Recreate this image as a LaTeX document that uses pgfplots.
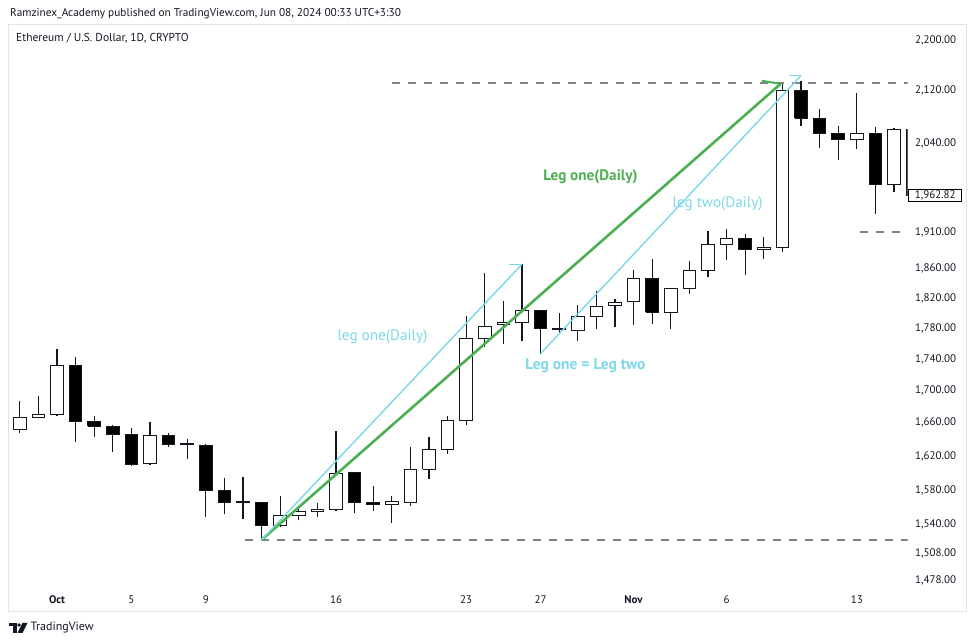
\documentclass[border=0pt]{standalone}
\usepackage{fontspec}
\setmainfont{PT Sans}
\usepackage{pgfplots}
\pgfplotsset{compat=1.18}
\usepackage{pgfplotstable}
\definecolor{tvtext}{HTML}{131722}
\definecolor{tvcyan}{HTML}{7DD8E8}
\definecolor{tvgreen}{HTML}{4CAF50}
\definecolor{tvdash}{HTML}{80838D}
\definecolor{tvframe}{HTML}{E0E3EB}

% daily candles, d = day index (0 = Oct 1)
\pgfplotstableread{
d O H L C
-2 1652 1687 1648 1667
-1 1667 1693 1666 1670
0 1670 1753 1669 1732
5 1611 1661 1610 1645
12 1539 1573 1538 1551
13 1551 1560 1545 1555
14 1555 1565 1549 1557
15 1557 1650 1556 1599
18 1563.5 1573 1542 1566.5
19 1566 1631 1562 1604
20 1604 1643 1593 1628
21 1628 1668 1623 1663
22 1663 1796 1657 1766
23 1766 1854 1756 1783
24 1785 1816 1760 1787
25 1787 1866 1764 1803
28 1777 1811 1764 1795
29 1795 1830 1779 1809
30 1810 1819 1782 1814
31 1815 1858 1784 1847
33 1801 1834 1779 1833
34 1833 1870 1826 1857
35 1857 1913 1849 1893.5
36 1894 1915 1872 1901
38 1886 1904 1874 1889
39 1889 2132 1883 2121
43 2046 2117 2031 2054
45 1979 2063 1968 2060
}\upcandles

\pgfplotstableread{
d O H L C
1 1732 1743 1637 1662
2 1662 1669 1643 1656
3 1656 1657 1625 1646
4 1646 1654 1608 1610
6 1645 1648 1631 1634
7 1634.5 1641 1617 1633.5
8 1633 1634 1549 1579
9 1579 1594 1552 1566
10 1566.5 1595 1546 1565.5
11 1566 1566 1523 1539
16 1600 1601 1553 1565
17 1565 1585 1556 1563
26 1803 1803 1747 1779
27 1779 1800 1772 1778
32 1847 1874 1786 1801
37 1901 1908 1851 1886
40 2121 2136 2066 2078
41 2078 2092 2032 2054
42 2054 2066 2015 2045
44 2054 2065 1936 1979
46 2060 2062 1955 1962.82
}\downcandles

% draw the candles of one table; #2 = fill colour of the body
\newcommand\drawcandles[2]{%
  \pgfplotstablegetrowsof{#1}%
  \pgfmathtruncatemacro\nrows{\pgfplotsretval-1}%
  \pgfplotsforeachungrouped \i in {0,...,\nrows}{%
    \pgfplotstablegetelem{\i}{d}\of#1\let\cd\pgfplotsretval
    \pgfplotstablegetelem{\i}{O}\of#1\let\co\pgfplotsretval
    \pgfplotstablegetelem{\i}{H}\of#1\let\ch\pgfplotsretval
    \pgfplotstablegetelem{\i}{L}\of#1\let\cl\pgfplotsretval
    \pgfplotstablegetelem{\i}{C}\of#1\let\cc\pgfplotsretval
    \pgfmathsetmacro\xl{\cd-0.34}%
    \pgfmathsetmacro\xr{\cd+0.34}%
    \pgfmathsetmacro\bbot{min(\co,\cc)}%
    \pgfmathsetmacro\btop{max(max(\co,\cc),\bbot+1.2)}%
    \edef\doplot{%
      \noexpand\addplot[draw=tvtext, line width=1.1pt, forget plot] coordinates {(\cd,\cl) (\cd,\ch)};
      \noexpand\addplot[draw=tvtext, fill=#2, line width=1pt, forget plot] coordinates {(\xl,\bbot) (\xr,\bbot) (\xr,\btop) (\xl,\btop) (\xl,\bbot)};
    }\doplot
  }%
}

\begin{document}
\begin{tikzpicture}
\fill[white] (0pt,0pt) rectangle (975pt,644pt);
\path[use as bounding box] (0pt,0pt) rectangle (975pt,644pt);
\draw[tvframe, line width=0.8pt] (8.5pt,32.3pt) rectangle (966pt,620pt);
\node[anchor=west, inner sep=0pt, font=\fontsize{11.3}{13}\selectfont, text=tvtext] at (10pt,630pt) {Ramzinex\_Academy published on TradingView.com, Jun 08, 2024 00:33 UTC+3:30};
\node[anchor=west, inner sep=0pt, font=\fontsize{11.5}{13}\selectfont, text=tvtext] at (16pt,606pt) {Ethereum / U.S. Dollar, 1D, CRYPTO};

\begin{axis}[
  at={(8.5pt,56pt)}, anchor=south west,
  width=899pt, height=564pt, scale only axis,
  xmin=-2.6075, xmax=45.726,
  y coord trafo/.code={\pgfmathparse{ln(#1)}},
  y coord inv trafo/.code={\pgfmathparse{exp(#1)}},
  ymin=1469.9, ymax=2227.2,
  axis line style={draw=none},
  major tick length=0pt, tick style={draw=none},
  yticklabel pos=right,
  ytick={1478,1508,1540,1580,1620,1660,1700,1740,1780,1820,1860,1910,2040,2120,2200},
  yticklabels={{1,478.00},{1,508.00},{1,540.00},{1,580.00},{1,620.00},{1,660.00},{1,700.00},{1,740.00},{1,780.00},{1,820.00},{1,860.00},{1,910.00},{2,040.00},{2,120.00},{2,200.00}},
  yticklabel style={font=\fontsize{11}{13}\selectfont, text=tvtext, anchor=west, inner sep=0pt, xshift=7.5pt},
  xtick={0,4,8,15,22,26,31,36,43},
  xticklabels={\textbf{Oct},5,9,16,23,27,\textbf{Nov},6,13},
  xticklabel style={font=\fontsize{11}{13}\selectfont, text=tvtext, anchor=base, inner sep=0pt, yshift=-15.5pt},
]
\drawcandles{\downcandles}{black}
\drawcandles{\upcandles}{white}

% horizontal dashed levels
\addplot[tvdash, line width=1.8pt, dash pattern=on 8pt off 8pt] coordinates {(18.0,2133) (45.8,2133)};
\addplot[tvdash, line width=1.8pt, dash pattern=on 8pt off 8pt] coordinates {(10.1,1523) (45.8,1523)};
\addplot[tvdash, line width=1.8pt, dash pattern=on 8pt off 8pt] coordinates {(43.17,1911) (45.8,1911)};

% trend arrows
\addplot[tvgreen, line width=2.6pt] coordinates {(11,1523) (38.9,2131)};
\addplot[tvgreen, line width=2.0pt] coordinates {(37.9,2136) (38.9,2131)};
\addplot[tvcyan, line width=1.4pt] coordinates {(11,1523) (25,1866)};
\addplot[tvcyan, line width=1.4pt] coordinates {(24.28,1866) (25,1866)};
\addplot[tvcyan, line width=1.4pt] coordinates {(26,1747) (40,2144)};
\addplot[tvcyan, line width=1.4pt] coordinates {(39.35,2144) (40,2144)};

% annotations
\node[font=\fontsize{15.2}{17}\selectfont, text=tvcyan] at (axis cs:17.5,1768.6) {leg one(Daily)};
\node[font=\fontsize{15.5}{17}\selectfont\bfseries, text=tvcyan] at (axis cs:28.41,1731.2) {Leg one = Leg two};
\node[font=\fontsize{15.2}{17}\selectfont\bfseries, text=tvgreen] at (axis cs:28.68,1990.2) {Leg one(Daily)};
\node[font=\fontsize{15.2}{17}\selectfont, text=tvcyan] at (axis cs:35.52,1950.6) {leg two(Daily)};
\end{axis}

% last price box
\node[draw=black, line width=0.8pt, fill=white, minimum width=53pt, minimum height=12.7pt, inner sep=0pt,
  font=\fontsize{11}{13}\selectfont, text=tvtext] at (935.2pt,448.6pt) {1,962.82};

% TradingView logo
\fill[tvtext] (9pt,21pt) rectangle (16.5pt,17.5pt);
\fill[tvtext] (12.5pt,17.5pt) rectangle (16.5pt,11pt);
\fill[tvtext] (19pt,19pt) circle (1.8pt);
\fill[tvtext] (22.5pt,21pt) -- (27.5pt,21pt) -- (22.5pt,11pt) -- (17.5pt,11pt) -- cycle;
\node[anchor=west, inner sep=0pt, font=\fontsize{12}{14}\selectfont, text=tvtext] at (30.5pt,16pt) {TradingView};
\end{tikzpicture}
\end{document}
